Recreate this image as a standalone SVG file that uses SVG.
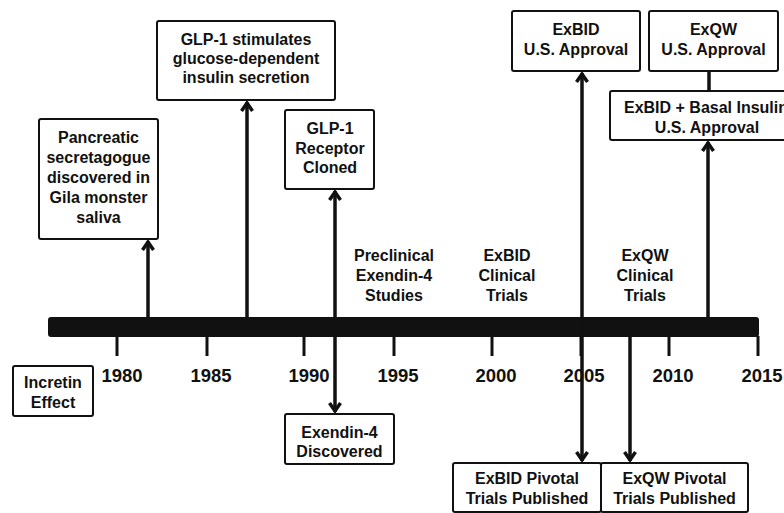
<svg xmlns="http://www.w3.org/2000/svg" width="784" height="513" viewBox="0 0 784 513">
<style>
text{font-family:"Liberation Sans",Arial,sans-serif;font-weight:bold;font-size:16px;fill:#111;text-anchor:middle}
.yr{font-size:18.5px}
.box{fill:#fff;stroke:#111;stroke-width:2}
.arr{stroke:#111;stroke-width:3.5;fill:none}
.tick{stroke:#111;stroke-width:3}
</style>
<defs>
<marker id="ah" markerUnits="userSpaceOnUse" markerWidth="16" markerHeight="16" viewBox="0 0 16 16" refX="12" refY="8" orient="auto-start-reverse">
<path d="M3,2.5 L11,8 L3,13.5" fill="none" stroke="#111" stroke-width="3.5" stroke-linejoin="miter"/>
</marker>
</defs>
<rect width="784" height="513" fill="#fff"/>

<g id="timeline">
<rect x="48" y="317" width="711" height="20" rx="3" fill="#111"/>
<line class="tick" x1="117" y1="336" x2="117" y2="356"/>
<line class="tick" x1="207" y1="336" x2="207" y2="356"/>
<line class="tick" x1="304" y1="336" x2="304" y2="356"/>
<line class="tick" x1="394" y1="336" x2="394" y2="356"/>
<line class="tick" x1="492" y1="336" x2="492" y2="356"/>
<line class="tick" x1="581" y1="336" x2="581" y2="356"/>
<line class="tick" x1="669" y1="336" x2="669" y2="356"/>
<line class="tick" x1="758" y1="336" x2="758" y2="356"/>
<text class="yr" x="122" y="382">1980</text>
<text class="yr" x="211" y="382">1985</text>
<text class="yr" x="309" y="382">1990</text>
<text class="yr" x="398" y="382">1995</text>
<text class="yr" x="496" y="382">2000</text>
<text class="yr" x="584" y="382">2005</text>
<text class="yr" x="673" y="382">2010</text>
<text class="yr" x="762" y="382">2015</text>
</g>

<g id="connectors">
<line class="arr" x1="148" y1="317" x2="148" y2="241" marker-end="url(#ah)"/>
<line class="arr" x1="247" y1="317" x2="247" y2="102" marker-end="url(#ah)"/>
<line class="arr" x1="335" y1="191" x2="335" y2="412" marker-start="url(#ah)" marker-end="url(#ah)"/>
<line class="arr" x1="582" y1="73" x2="582" y2="461" marker-start="url(#ah)" marker-end="url(#ah)"/>
<line class="arr" x1="709" y1="71" x2="709" y2="91"/>
<line class="arr" x1="708" y1="317" x2="708" y2="142" marker-end="url(#ah)"/>
<line class="arr" x1="630" y1="337" x2="630" y2="461" marker-end="url(#ah)"/>
</g>

<g id="pancreatic">
<rect class="box" x="39" y="119" width="119" height="120" rx="2"/>
<text x="98.5" y="143">Pancreatic</text>
<text x="98.5" y="163">secretagogue</text>
<text x="98.5" y="183">discovered in</text>
<text x="98.5" y="203">Gila monster</text>
<text x="98.5" y="223">saliva</text>
</g>

<g id="glp1-stimulates">
<rect class="box" x="157" y="21" width="178" height="79" rx="2"/>
<text x="246" y="45">GLP-1 stimulates</text>
<text x="246" y="64">glucose-dependent</text>
<text x="246" y="83">insulin secretion</text>
</g>

<g id="glp1-receptor">
<rect class="box" x="285" y="110" width="89" height="79" rx="2"/>
<text x="330" y="134">GLP-1</text>
<text x="330" y="154">Receptor</text>
<text x="330" y="173">Cloned</text>
</g>

<g id="exendin-discovered">
<rect class="box" x="285" y="414" width="109" height="50" rx="2"/>
<text x="339.5" y="438">Exendin-4</text>
<text x="339.5" y="457">Discovered</text>
</g>

<g id="incretin">
<rect class="box" x="13" y="366" width="80" height="50" rx="2"/>
<text x="53" y="388">Incretin</text>
<text x="53" y="408">Effect</text>
</g>

<g id="preclinical">
<text x="394" y="261">Preclinical</text>
<text x="394" y="281">Exendin-4</text>
<text x="394" y="301">Studies</text>
</g>

<g id="exbid-clinical">
<text x="507" y="261">ExBID</text>
<text x="507" y="281">Clinical</text>
<text x="507" y="301">Trials</text>
</g>

<g id="exqw-clinical">
<text x="645" y="261">ExQW</text>
<text x="645" y="281">Clinical</text>
<text x="645" y="301">Trials</text>
</g>

<g id="exbid-approval">
<rect class="box" x="512" y="11" width="128" height="60" rx="2"/>
<text x="576" y="35">ExBID</text>
<text x="576" y="55">U.S. Approval</text>
</g>

<g id="exqw-approval">
<rect class="box" x="649" y="11" width="129" height="60" rx="2"/>
<text x="713.5" y="35">ExQW</text>
<text x="713.5" y="55">U.S. Approval</text>
</g>

<g id="exbid-basal-approval">
<rect class="box" x="610" y="91" width="200" height="49" rx="2"/>
<text x="706" y="113">ExBID + Basal Insulin</text>
<text x="707" y="133">U.S. Approval</text>
</g>

<g id="exbid-pivotal">
<rect class="box" x="453" y="463" width="148" height="49" rx="2"/>
<text x="527" y="484">ExBID Pivotal</text>
<text x="527" y="504">Trials Published</text>
</g>

<g id="exqw-pivotal">
<rect class="box" x="601" y="463" width="147" height="49" rx="2"/>
<text x="674.5" y="484">ExQW Pivotal</text>
<text x="674.5" y="504">Trials Published</text>
</g>
</svg>
